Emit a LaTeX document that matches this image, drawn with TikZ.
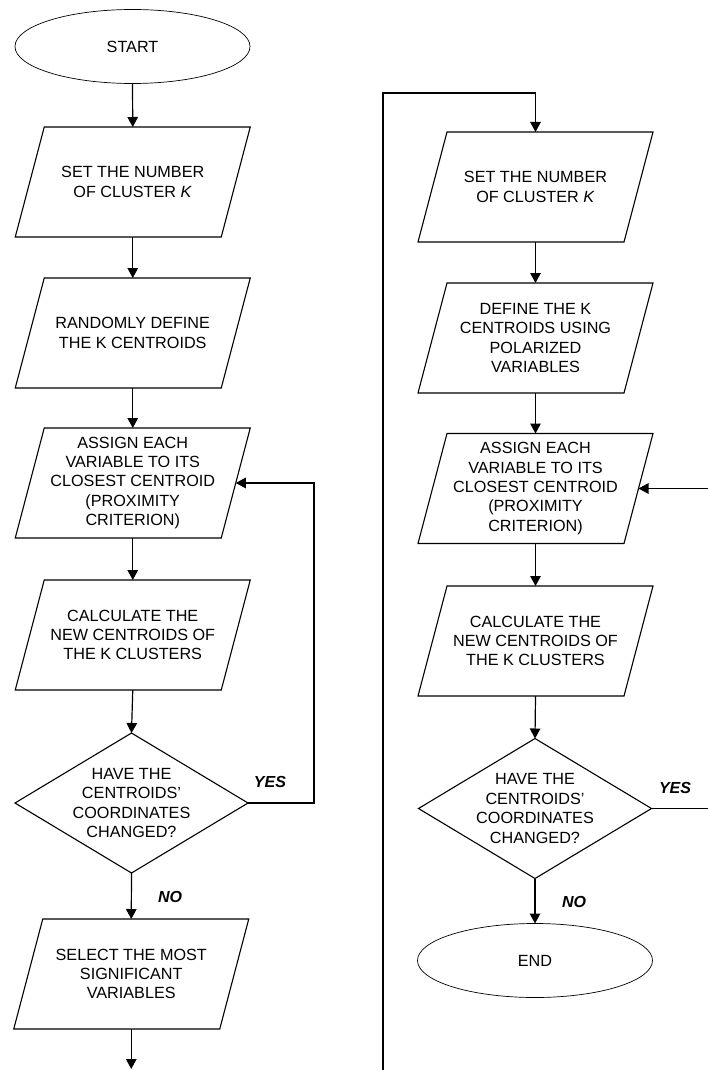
\documentclass[tikz,border=0pt]{standalone}
\usepackage{fontspec}
\setmainfont{Liberation Sans}
\usetikzlibrary{arrows.meta,shapes.geometric}
\begin{document}
\begin{tikzpicture}[x=1pt,y=-1pt,
 base/.style={font=\fontsize{16.2}{19.4}\selectfont, align=center, outer sep=0pt, inner sep=0pt},
 para/.style={base, minimum width=206pt, minimum height=110pt},
 decision/.style={base, minimum width=233pt, minimum height=140pt},
 term/.style={base, ellipse, draw, line width=0.7pt, minimum width=235pt, minimum height=74pt},
 shapeline/.style={line width=1.1pt, line join=miter},
 flow/.style={line width=1.2pt, -{Triangle[length=10pt,width=10.5pt]}},
 link/.style={line width=1.2pt},
 answer/.style={font=\fontsize{16}{19}\selectfont\bfseries\itshape}]
\useasboundingbox (0,0) rectangle (707,1070);
\fill[white] (0,0) rectangle (707,1070);

% left column
\node[term] (start) at (132.5,46.5) {START};
\node[para] (p1) at (132.75,182) {SET THE NUMBER\\OF CLUSTER \textit{K}};
\node[para] (p2) at (132.75,333) {RANDOMLY DEFINE\\THE K CENTROIDS};
\node[para] (p3) at (132.75,483) {ASSIGN EACH\\VARIABLE TO ITS\\CLOSEST CENTROID\\(PROXIMITY\\CRITERION)};
\node[para] (p4) at (132.75,635) {CALCULATE THE\\NEW CENTROIDS OF\\THE K CLUSTERS};
\node[decision] (d1) at (131.5,803) {HAVE THE\\CENTROIDS'\\COORDINATES\\CHANGED?};
\node[para] (p5) at (131.25,974) {SELECT THE MOST\\SIGNIFICANT\\VARIABLES};

% right column
\node[para] (r1) at (535.5,187) {SET THE NUMBER\\OF CLUSTER \textit{K}};
\node[para] (r2) at (535.5,338) {DEFINE THE K\\CENTROIDS USING\\POLARIZED\\VARIABLES};
\node[para] (r3) at (535.5,488.5) {ASSIGN EACH\\VARIABLE TO ITS\\CLOSEST CENTROID\\(PROXIMITY\\CRITERION)};
\node[para] (r4) at (535.5,641) {CALCULATE THE\\NEW CENTROIDS OF\\THE K CLUSTERS};
\node[decision] (d2) at (535,808.5) {HAVE THE\\CENTROIDS'\\COORDINATES\\CHANGED?};
\node[term] (end) at (535,960.5) {END};

% shapes
\foreach \n in {p1,p2,p3,p4,p5,r1,r2,r3,r4}
  \draw[shapeline] ([xshift=14.5pt]\n.north west) -- ([xshift=14.5pt]\n.north east)
    -- ([xshift=-14.5pt]\n.south east) -- ([xshift=-14.5pt]\n.south west) -- cycle;
\foreach \n in {d1,d2}
  \draw[shapeline] (\n.north) -- (\n.east) -- (\n.south) -- (\n.west) -- cycle;

% labels
\node[answer] (yes1) at (270,782) {YES};
\node[answer] (no1) at (170,897) {NO};
\node[answer] (yes2) at (675,788) {YES};
\node[answer] (no2) at (574,902) {NO};

% connectors left
\draw[flow] (start.south) -- (p1.north);
\draw[flow] (p1.south) -- (p2.north);
\draw[flow] (p2.south) -- (p3.north);
\draw[flow] (p3.south) -- (p4.north);
\draw[flow] (p4.south) -- (d1.north);
\draw[flow] (d1.south) -- (p5.north);
\coordinate (loopL) at (314,483);
\draw[flow] (d1.east) -| (loopL) -- (p3.east);
\coordinate (outL) at (131.25,1069);
\draw[flow] (p5.south) -- (outL);

% connectors right
\coordinate (inB) at (383,1072);
\coordinate (inT) at (383,93);
\draw[flow] (inB) -- (inT) -| (r1.north);
\draw[flow] (r1.south) -- (r2.north);
\draw[flow] (r2.south) -- (r3.north);
\draw[flow] (r3.south) -- (r4.north);
\draw[flow] (r4.south) -- (d2.north);
\draw[flow] (d2.south) -- (end.north);
\coordinate (loopRin) at (708,488.5);
\draw[flow] (loopRin) -- (r3.east);
\coordinate (loopRout) at (708,808.5);
\draw[link] (d2.east) -- (loopRout);
\end{tikzpicture}
\end{document}
